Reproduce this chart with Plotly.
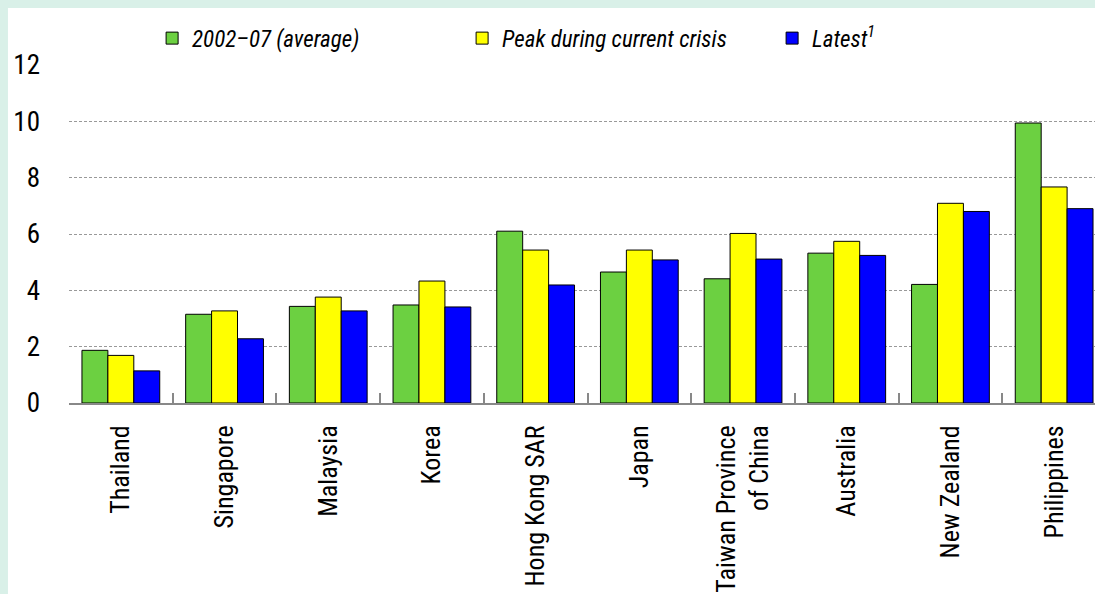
import plotly.graph_objects as go

categories = ["Thailand", "Singapore", "Malaysia", "Korea", "Hong Kong SAR", "Japan",
              "Taiwan Province<br>of China", "Australia", "New Zealand", "Philippines"]
avg_2002_07 = [1.87, 3.15, 3.43, 3.48, 6.10, 4.65, 4.41, 5.32, 4.21, 9.94]
peak_crisis = [1.69, 3.27, 3.76, 4.33, 5.43, 5.43, 6.02, 5.74, 7.09, 7.67]
latest = [1.14, 2.28, 3.27, 3.41, 4.19, 5.08, 5.11, 5.24, 6.80, 6.90]
series_names = ["2002–07 (average)", "Peak during current crisis", "Latest<sup>1</sup>"]
colors = ["#6cd041", "#ffff00", "#0000ff"]
y_ticks = [0, 2, 4, 6, 8, 10, 12]

FONT = "Roboto Condensed, Archivo Narrow, Roboto, sans-serif"

fig = go.Figure()
for name, vals, col in zip(series_names, [avg_2002_07, peak_crisis, latest], colors):
    fig.add_trace(go.Bar(
        x=categories, y=vals, name=name,
        marker=dict(color=col, line=dict(color="#000000", width=1)),
    ))

fig.update_layout(
    width=1095, height=594,
    margin=dict(l=69, r=0, t=65, b=191),
    paper_bgcolor="#d9f0e8",
    plot_bgcolor="#ffffff",
    barmode="group", bargap=0.25, bargroupgap=0,
    font=dict(family=FONT, color="#000000", size=26),
    showlegend=True,
    legend=dict(orientation="h", x=0.081, y=1.143, xanchor="left", yanchor="top",
                entrywidth=265, entrywidthmode="pixels",
                font=dict(family=FONT, size=23, style="italic"),
                bgcolor="rgba(0,0,0,0)", traceorder="normal"),
    shapes=[dict(type="rect", xref="paper", yref="paper", x0=-0.0595, x1=1.05,
                 y0=-1.0, y1=1.1686, fillcolor="#ffffff", line=dict(width=0),
                 layer="below")],
)
fig.update_xaxes(
    range=[-0.5, 9.394], tickangle=-90, tickfont=dict(size=26),
    showline=True, linecolor="#888888", linewidth=2,
    ticks="inside", tickson="boundaries", ticklen=10, tickwidth=2, tickcolor="#888888",
    ticklabelstandoff=10,
    showgrid=False, fixedrange=True,
)
fig.update_yaxes(
    range=[0, 12], tickvals=y_ticks, ticktext=[str(v) for v in y_ticks],
    showgrid=True, gridcolor="#999999", gridwidth=1, griddash="3px,2px",
    zeroline=False, showline=False, ticks="", ticklabelstandoff=28,
    tickfont=dict(size=27),
)

fig.write_html("out.html", config={"displayModeBar": False},
               post_script="document.body.style.margin='0px';document.body.style.background='#d9f0e8';")
